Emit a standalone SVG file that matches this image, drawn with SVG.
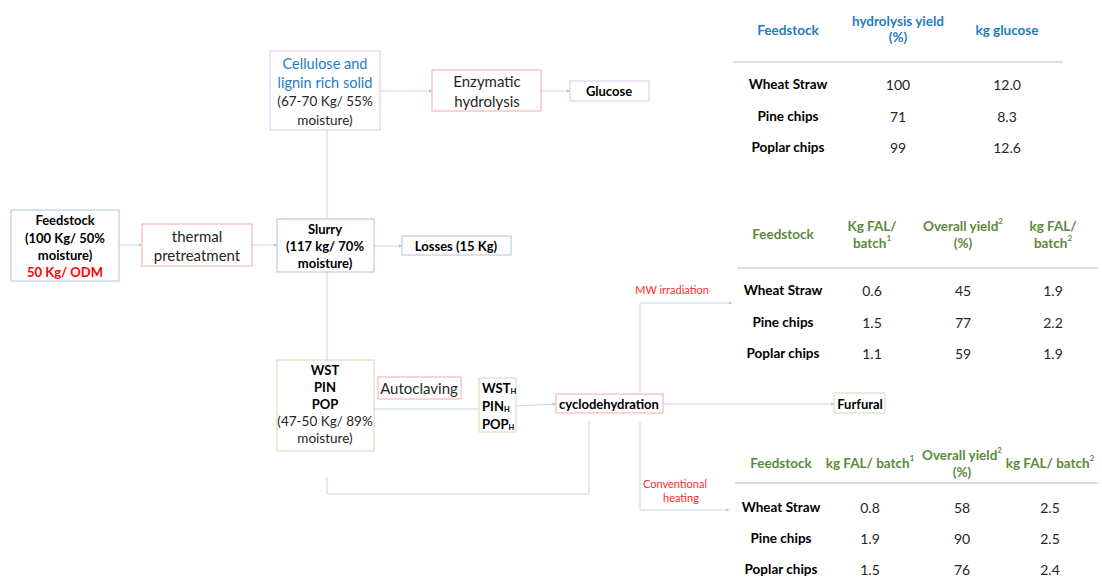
<svg xmlns="http://www.w3.org/2000/svg" width="1102" height="578" viewBox="0 0 1102 578">
<defs>
<marker id="arr" viewBox="0 0 6 6" refX="6" refY="3" markerWidth="3.5" markerHeight="3.5" orient="auto" markerUnits="userSpaceOnUse">
<path d="M0,0 L6,3 L0,6 z" fill="#a9c0e2"/>
</marker>
<style>
text{font-family:Lato,"Liberation Sans",sans-serif;text-anchor:middle;dominant-baseline:central;fill:#000}
.b{font-weight:bold;font-size:13px}
.r{font-size:15px;fill:#262626}
.rs{font-size:13.5px;fill:#262626}
.blue{fill:#1f7bc4}
.green{fill:#5b8a3c}
.red{fill:#ff0000}
.lbl{font-size:11px;fill:#ff2a2a}
.th{font-weight:bold;font-size:13.5px}
.tb{font-weight:bold;font-size:13.5px}
.tn{font-size:14px;fill:#262626}
.bx{fill:#fff;stroke-width:1}
.bl{stroke:#b4c2dc}
.rd{stroke:#f6a8a8}
.pu{stroke:#d9c6ea}
.gr{stroke:#c9e0b8}
.c{fill:none;stroke:#c3d5ef;stroke-width:1}
.rule{stroke:#bfbfbf;stroke-width:1}
</style>
</defs>
<rect width="1102" height="578" fill="#fff"/>

<g id="connectors">
<path class="c" d="M119,245 H142" marker-end="url(#arr)"/>
<path class="c" d="M252,245 H277" marker-end="url(#arr)"/>
<path class="c" d="M374,246 H402" marker-end="url(#arr)"/>
<path class="c" d="M327,219 V130"/>
<path class="c" d="M327,272 V360"/>
<path class="c" d="M380,91 H432" marker-end="url(#arr)"/>
<path class="c" d="M541,91 H570" marker-end="url(#arr)"/>
<path class="c" d="M374,409 H482" marker-end="url(#arr)"/>
<path class="c" d="M516,406 L556,404" marker-end="url(#arr)"/>
<path class="c" d="M327,477 V494 H589 V421"/>
<path class="c" d="M663,404 H834" marker-end="url(#arr)"/>
<path class="c" d="M640,393 V303 H732" marker-end="url(#arr)"/>
<path class="c" d="M640,422 V510 H729" marker-end="url(#arr)"/>
</g>

<g id="feedstock">
<rect class="bx bl" x="11" y="210" width="108" height="71"/>
<text class="b" x="65" y="220">Feedstock</text>
<text class="b" x="65" y="238">(100 Kg/ 50%</text>
<text class="b" x="65" y="255">moisture)</text>
<text class="b red" x="65" y="272">50 Kg/ ODM</text>
</g>

<g id="thermal">
<rect class="bx rd" x="142" y="224" width="110" height="42"/>
<text class="r" x="197" y="236">thermal</text>
<text class="r" x="197" y="255">pretreatment</text>
</g>

<g id="slurry">
<rect class="bx bl" x="277" y="219" width="97" height="53"/>
<text class="b" x="325" y="229">Slurry</text>
<text class="b" x="325" y="246">(117 kg/ 70%</text>
<text class="b" x="325" y="263">moisture)</text>
</g>

<g id="losses">
<rect class="bx bl" x="402" y="236" width="109" height="19"/>
<text class="b" x="456" y="246">Losses (15 Kg)</text>
</g>

<g id="cellulose">
<rect class="bx pu" x="270" y="51" width="110" height="79"/>
<text class="r blue" x="325" y="63" style="font-size:14.5px">Cellulose and</text>
<text class="r blue" x="325" y="82" style="font-size:14.5px">lignin rich solid</text>
<text class="rs" x="325" y="101">(67-70 Kg/ 55%</text>
<text class="rs" x="325" y="120">moisture)</text>
</g>

<g id="enzymatic">
<rect class="bx rd" x="432" y="70" width="109" height="41"/>
<text class="r" x="487" y="81">Enzymatic</text>
<text class="r" x="487" y="101">hydrolysis</text>
</g>

<g id="glucose">
<rect class="bx pu" x="570" y="81" width="79" height="20"/>
<text class="b" x="609" y="91">Glucose</text>
</g>

<g id="wst">
<rect class="bx gr" x="277" y="360" width="97" height="91"/>
<text class="b" x="325" y="370">WST</text>
<text class="b" x="325" y="387">PIN</text>
<text class="b" x="325" y="404">POP</text>
<text class="rs" x="325" y="421">(47-50 Kg/ 89%</text>
<text class="rs" x="325" y="438">moisture)</text>
</g>

<g id="autoclaving">
<rect class="bx rd" x="378" y="377" width="83" height="22"/>
<text class="r" x="419" y="388">Autoclaving</text>
</g>

<g id="wsth">
<rect class="bx gr" x="479" y="378" width="37" height="54"/>
<text class="b" x="482" y="388" style="text-anchor:start">WST<tspan font-size="7.5" dy="3">H</tspan></text>
<text class="b" x="482" y="406" style="text-anchor:start">PIN<tspan font-size="7.5" dy="3">H</tspan></text>
<text class="b" x="482" y="424" style="text-anchor:start">POP<tspan font-size="7.5" dy="3">H</tspan></text>
</g>

<g id="cyclodehydration">
<rect class="bx rd" x="556" y="394" width="107" height="19"/>
<text class="b" x="609" y="404">cyclodehydration</text>
</g>

<g id="furfural">
<rect class="bx gr" x="834" y="393" width="51" height="20"/>
<text class="b" x="860" y="404">Furfural</text>
</g>

<g id="labels">
<text class="lbl" x="672" y="289">MW irradiation</text>
<text class="lbl" x="675" y="483">Conventional</text>
<text class="lbl" x="681" y="497">heating</text>
</g>

<g id="table1">
<text class="th blue" x="788" y="30">Feedstock</text>
<text class="th blue" x="898" y="21">hydrolysis yield</text>
<text class="th blue" x="898" y="37">(%)</text>
<text class="th blue" x="1007" y="30">kg glucose</text>
<line class="rule" x1="733" y1="62" x2="1063" y2="62"/>
<text class="tb" x="788" y="84">Wheat Straw</text>
<text class="tn" x="898" y="84">100</text>
<text class="tn" x="1007" y="84">12.0</text>
<text class="tb" x="788" y="116">Pine chips</text>
<text class="tn" x="898" y="116">71</text>
<text class="tn" x="1007" y="116">8.3</text>
<text class="tb" x="788" y="147">Poplar chips</text>
<text class="tn" x="898" y="147">99</text>
<text class="tn" x="1007" y="147">12.6</text>
</g>

<g id="table2">
<text class="th green" x="783" y="234">Feedstock</text>
<text class="th green" x="872" y="226">Kg FAL/</text>
<text class="th green" x="872" y="243">batch<tspan font-size="8" dy="-5">1</tspan></text>
<text class="th green" x="963" y="226">Overall yield<tspan font-size="8" dy="-5">2</tspan></text>
<text class="th green" x="963" y="243">(%)</text>
<text class="th green" x="1053" y="226">kg FAL/</text>
<text class="th green" x="1053" y="243">batch<tspan font-size="8" dy="-5">2</tspan></text>
<line class="rule" x1="737" y1="268" x2="1098" y2="268"/>
<text class="tb" x="783" y="290">Wheat Straw</text>
<text class="tn" x="872" y="290">0.6</text>
<text class="tn" x="963" y="290">45</text>
<text class="tn" x="1053" y="290">1.9</text>
<text class="tb" x="783" y="322">Pine chips</text>
<text class="tn" x="872" y="322">1.5</text>
<text class="tn" x="963" y="322">77</text>
<text class="tn" x="1053" y="322">2.2</text>
<text class="tb" x="783" y="353">Poplar chips</text>
<text class="tn" x="872" y="353">1.1</text>
<text class="tn" x="963" y="353">59</text>
<text class="tn" x="1053" y="353">1.9</text>
</g>

<g id="table3">
<text class="th green" x="781" y="463">Feedstock</text>
<text class="th green" x="870" y="463">kg FAL/ batch<tspan font-size="8" dy="-5">1</tspan></text>
<text class="th green" x="962" y="455">Overall yield<tspan font-size="8" dy="-5">2</tspan></text>
<text class="th green" x="962" y="472">(%)</text>
<text class="th green" x="1050" y="463">kg FAL/ batch<tspan font-size="8" dy="-5">2</tspan></text>
<line class="rule" x1="735" y1="483" x2="1098" y2="483"/>
<text class="tb" x="781" y="507">Wheat Straw</text>
<text class="tn" x="870" y="507">0.8</text>
<text class="tn" x="962" y="507">58</text>
<text class="tn" x="1050" y="507">2.5</text>
<text class="tb" x="781" y="538">Pine chips</text>
<text class="tn" x="870" y="538">1.9</text>
<text class="tn" x="962" y="538">90</text>
<text class="tn" x="1050" y="538">2.5</text>
<text class="tb" x="781" y="569">Poplar chips</text>
<text class="tn" x="870" y="569">1.5</text>
<text class="tn" x="962" y="569">76</text>
<text class="tn" x="1050" y="569">2.4</text>
</g>
</svg>
